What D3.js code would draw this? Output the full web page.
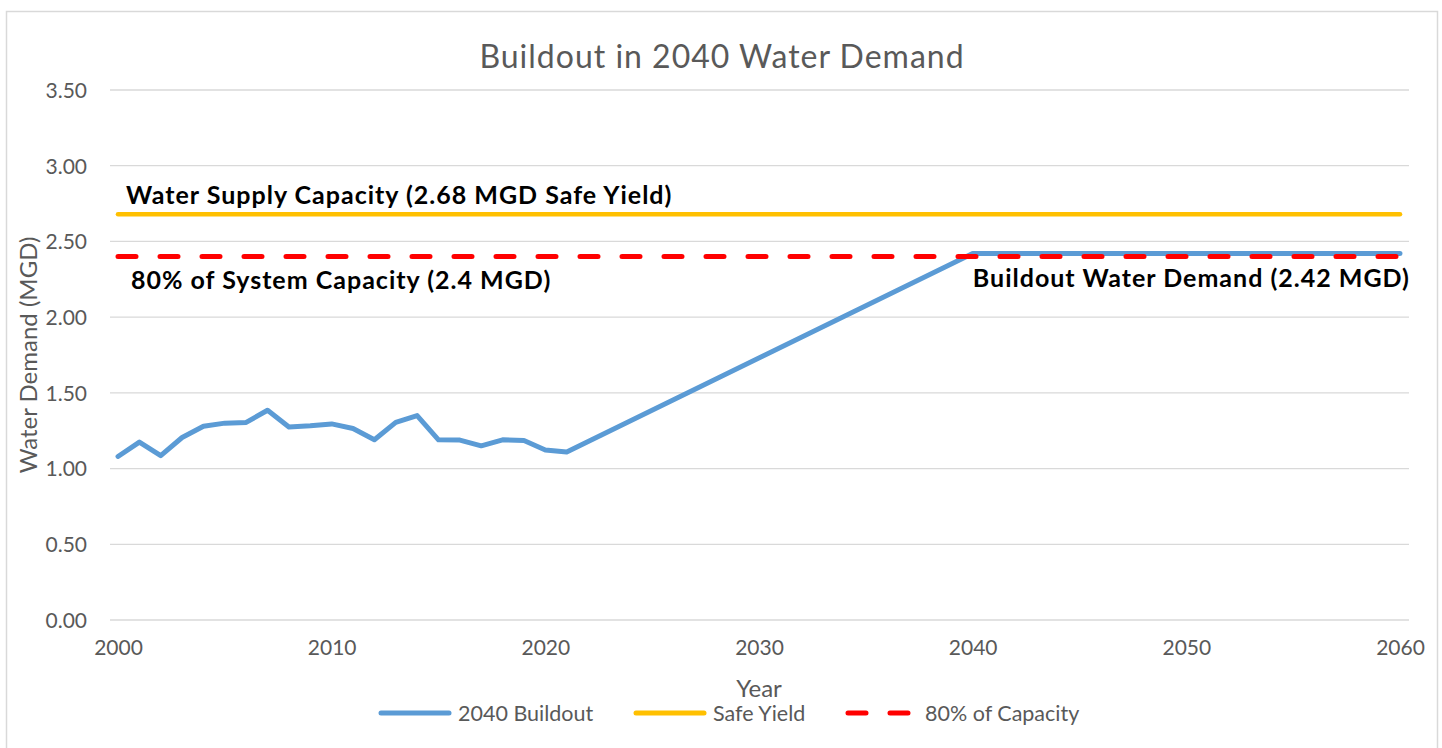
<!DOCTYPE html>
<html>
<head>
<meta charset="utf-8">
<script src="https://cdn.jsdelivr.net/npm/d3@7"></script>
<style>
  body { margin: 0; background: #fff; }
  svg { display: block; font-family: Lato, "Open Sans", sans-serif; }
</style>
</head>
<body>
<svg width="1442" height="748"></svg>
<script>
// buildout demand series (MGD)
var buildoutYears = [2000, 2001, 2002, 2003, 2004, 2005, 2006, 2007, 2008, 2009, 2010,
    2011, 2012, 2013, 2014, 2015, 2016, 2017, 2018, 2019, 2020, 2021, 2040, 2060];
var buildoutValues = [1.08, 1.175, 1.085, 1.205, 1.28, 1.30, 1.305, 1.385, 1.275, 1.283, 1.295,
    1.265, 1.19, 1.305, 1.35, 1.19, 1.188, 1.15, 1.19, 1.185, 1.123, 1.11, 2.42, 2.42];

var safeYieldYears = [2000, 2060];
var safeYieldValues = [2.68, 2.68];

var capacityYears = [2000, 2060];
var capacityValues = [2.4, 2.4];

var yTicks = [0, 0.5, 1, 1.5, 2, 2.5, 3, 3.5];
var xTicks = [2000, 2010, 2020, 2030, 2040, 2050, 2060];

var legendNames = ["2040 Buildout", "Safe Yield", "80% of Capacity"];

var svg = d3.select("svg");
var grey = "#595959";

// outer chart border
svg.append("rect")
    .attr("x", 6.5).attr("y", 11.5)
    .attr("width", 1431).attr("height", 760)
    .attr("fill", "none")
    .attr("stroke", "#d9d9d9")
    .attr("stroke-width", 1.5);

var x = d3.scaleLinear().domain([2000, 2060]).range([118, 1400]);
var y = d3.scaleLinear().domain([0, 3.5]).range([620, 90]);

// gridlines
svg.append("g")
    .selectAll("line")
    .data(yTicks)
    .enter().append("line")
    .attr("x1", 110).attr("x2", 1409)
    .attr("y1", function(d) { return y(d); })
    .attr("y2", function(d) { return y(d); })
    .attr("stroke", "#d9d9d9")
    .attr("stroke-width", 1.3);

// y axis labels
var yAxis = d3.axisLeft(y).tickValues(yTicks).tickFormat(d3.format(".2f")).tickSize(0).tickPadding(0);
var gy = svg.append("g").attr("transform", "translate(87,0)").call(yAxis);
gy.select(".domain").remove();
gy.selectAll("text")
    .attr("fill", grey)
    .attr("dy", "0.35em")
    .style("font-size", "21px")
    .style("font-family", "Lato, sans-serif");

// x axis labels
var xAxis = d3.axisBottom(x).tickValues(xTicks).tickFormat(d3.format("d")).tickSize(0).tickPadding(0);
var gx = svg.append("g").attr("transform", "translate(0,640)").call(xAxis);
gx.select(".domain").remove();
gx.selectAll("text")
    .attr("fill", grey)
    .attr("dy", "0.71em")
    .style("font-size", "21px")
    .style("font-family", "Lato, sans-serif");

var line = d3.line()
    .x(function(d) { return x(d[0]); })
    .y(function(d) { return y(d[1]); });

function pairs(xs, ys) {
    return xs.map(function(v, i) { return [v, ys[i]]; });
}

svg.append("path")
    .datum(pairs(safeYieldYears, safeYieldValues))
    .attr("fill", "none")
    .attr("stroke", "#ffc000")
    .attr("stroke-width", 4.5)
    .attr("stroke-linecap", "round")
    .attr("d", line);

svg.append("path")
    .datum(pairs(buildoutYears, buildoutValues))
    .attr("fill", "none")
    .attr("stroke", "#5b9bd5")
    .attr("stroke-width", 5)
    .attr("stroke-linecap", "round")
    .attr("stroke-linejoin", "round")
    .attr("d", line);

svg.append("path")
    .datum(pairs(capacityYears, capacityValues))
    .attr("fill", "none")
    .attr("stroke", "#ff0000")
    .attr("stroke-width", 5)
    .attr("stroke-linecap", "round")
    .attr("stroke-dasharray", "18,24")
    .attr("d", line);

// title
svg.append("text")
    .attr("x", 722).attr("y", 68)
    .attr("text-anchor", "middle")
    .attr("fill", grey)
    .style("font-size", "32px")
    .style("letter-spacing", "1px")
    .text("Buildout in 2040 Water Demand");

// annotations
var notes = svg.append("g")
    .attr("fill", "#000")
    .style("font-weight", "bold")
    .style("font-size", "25px")
    .style("letter-spacing", "1px");
notes.append("text").attr("x", 126).attr("y", 204)
    .text("Water Supply Capacity (2.68 MGD Safe Yield)");
notes.append("text").attr("x", 131).attr("y", 289)
    .text("80% of System Capacity (2.4 MGD)");
notes.append("text").attr("x", 1410).attr("y", 287)
    .attr("text-anchor", "end")
    .text("Buildout Water Demand (2.42 MGD)");

// axis titles
svg.append("text")
    .attr("x", 759).attr("y", 697)
    .attr("text-anchor", "middle")
    .attr("fill", grey)
    .style("font-size", "24px")
    .text("Year");

svg.append("text")
    .attr("transform", "translate(37,355) rotate(-90)")
    .attr("text-anchor", "middle")
    .attr("fill", grey)
    .style("font-size", "24px")
    .text("Water Demand (MGD)");

// legend
var legendColors = ["#5b9bd5", "#ffc000", "#ff0000"];
var legendX = [379, 634, 846];
var lg = svg.append("g");
legendNames.forEach(function(name, i) {
    var item = lg.append("g").attr("transform", "translate(" + legendX[i] + ",713)");
    item.append("line")
        .attr("x1", 2).attr("x2", 70)
        .attr("stroke", legendColors[i])
        .attr("stroke-width", 5)
        .attr("stroke-linecap", "round")
        .attr("stroke-dasharray", i == 2 ? "18,24" : null);
    item.append("text")
        .attr("x", 79).attr("dy", "0.35em")
        .attr("fill", grey)
        .style("font-size", "21.5px")
        .text(name);
});
</script>
</body>
</html>
